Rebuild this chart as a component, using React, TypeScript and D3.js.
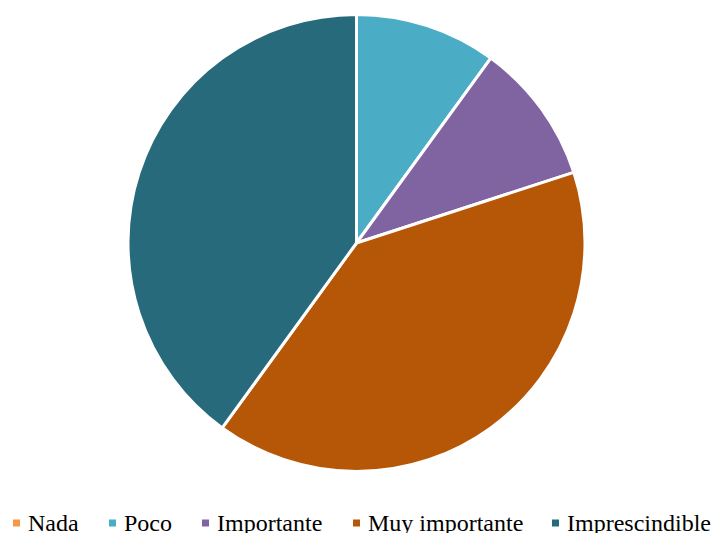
import React from "react";
import * as d3 from "d3";

const categories = ["Nada", "Poco", "Importante", "Muy importante", "Imprescindible"];
const values = [0, 1, 1, 4, 4];
const colors = ["#F79646", "#4BACC6", "#8064A2", "#B65708", "#276A7C"];

const W = 713;
const H = 533;
const legendX = [12, 108, 201, 352, 551];

export default function App() {
  const cx = 356.5;
  const cy = 243;
  const r = 228.5;
  const data = categories.map((c, i) => ({ name: c, value: values[i], color: colors[i] }));
  const pie = d3.pie<any>().sort(null).value((d) => d.value);
  const arcs = pie(data).filter((a) => a.data.value > 0);
  const arc = d3.arc<any>().innerRadius(0).outerRadius(r);
  return (
    <svg width={W} height={H} style={{ position: "absolute", left: 0, top: 0 }}>
      <rect width={W} height={H} fill="#fff" />
      <g transform={`translate(${cx},${cy})`}>
        {arcs.map((a, i) => (
          <path key={i} d={arc(a) as string} fill={a.data.color} stroke="#fff" strokeWidth={3} strokeLinejoin="round" />
        ))}
      </g>
      <g fontFamily="'Liberation Serif', 'Times New Roman', serif" fontSize={24} fill="#000">
        {data.map((d, i) => (
          <g key={i} transform={`translate(${legendX[i]},0)`}>
            <rect x={1} y={519.5} width={7} height={7} fill={d.color} />
            <text x={16} y={531}>{d.name}</text>
          </g>
        ))}
      </g>
    </svg>
  );
}
